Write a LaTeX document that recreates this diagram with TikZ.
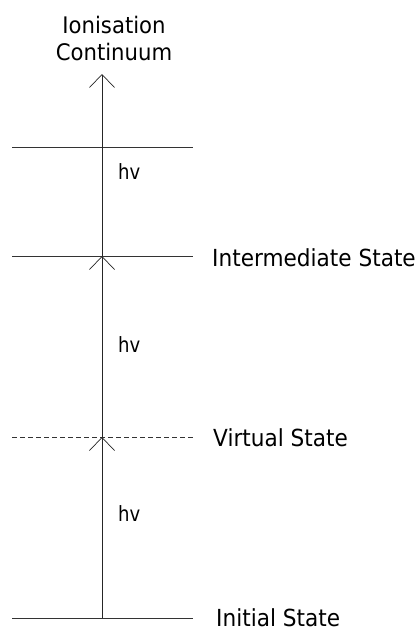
\documentclass[tikz,border=0pt]{standalone}
\usepackage{fontspec}
\usetikzlibrary{arrows.meta}
\newfontfamily\labfont[FakeStretch=0.92]{DejaVu Sans}
\newfontfamily\hvfont[FakeStretch=0.86]{DejaVu Sans}
\newfontfamily\ttlfont[FakeStretch=0.93]{DejaVu Sans}
\begin{document}
\begin{tikzpicture}[x=1pt,y=-1pt,
  level/.style={draw=black!80, line width=0.9pt},
  virt/.style={draw=black!80, line width=0.9pt, dash pattern=on 5pt off 3pt},
  photon/.style={draw=black!85, line width=0.9pt, -{Straight Barb[length=13pt,width=25pt,line width=0.7pt]}},
  statelab/.style={anchor=base west, inner sep=0pt, font=\labfont\fontsize{23.5}{28}\selectfont, text=black},
  ttl/.style={anchor=base, inner sep=0pt, font=\ttlfont\fontsize{22.8}{27}\selectfont, text=black},
  hvlab/.style={anchor=base west, inner sep=0pt, font=\hvfont\fontsize{21}{25}\selectfont, text=black}]
\useasboundingbox (0,0) rectangle (418,632);
% level end points
\coordinate (gL) at (12,618); \coordinate (gR) at (193,618);
\coordinate (vL) at (12,437); \coordinate (vR) at (193,437);
\coordinate (mL) at (12,256); \coordinate (mR) at (193,256);
\coordinate (cL) at (12,147); \coordinate (cR) at (193,147);
% arrow points
\coordinate (g) at (102,618);
\coordinate (v) at (102,437);
\coordinate (m) at (102,256);
\coordinate (c) at (102,74);
% levels
\draw[level] (gL) -- (gR);
\draw[virt] (vL) -- (vR);
\draw[level] (mL) -- (mR);
\draw[level] (cL) -- (cR);
% photons
\draw[photon] (g) -- (v);
\draw[photon] (v) -- (m);
\draw[photon] (m) -- (c);
% labels
\node[statelab] (lInit) at (216,626) {Initial State};
\node[statelab] (lVirt) at (213,446) {Virtual State};
\node[statelab] (lInt) at (212,266) {Intermediate State};
\node[ttl] (t1) at (114,33) {Ionisation};
\node[ttl] (t2) at (114,60) {Continuum};
\node[hvlab] (h1) at (118,179) {hv};
\node[hvlab] (h2) at (118,352) {hv};
\node[hvlab] (h3) at (118,521) {hv};
\end{tikzpicture}
\end{document}
